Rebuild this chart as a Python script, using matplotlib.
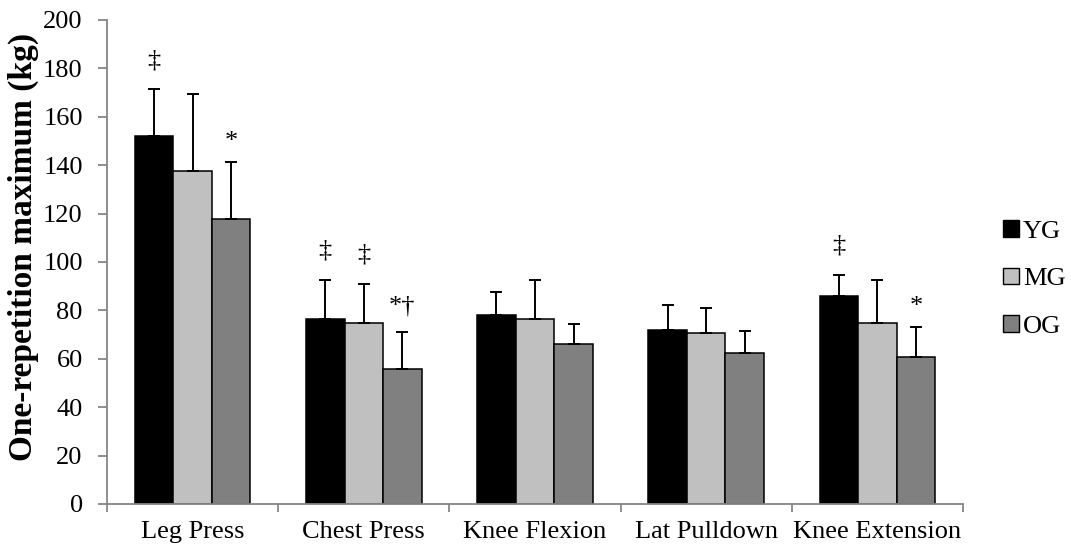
import matplotlib
matplotlib.use("Agg")
import matplotlib.pyplot as plt
import numpy as np

categories = ["Leg Press", "Chest Press", "Knee Flexion", "Lat Pulldown", "Knee Extension"]
groups = ["YG", "MG", "OG"]
yg_mean = [152.2, 76.3, 77.9, 72.0, 86.1]
mg_mean = [137.7, 74.6, 76.6, 70.7, 74.9]
og_mean = [117.9, 55.7, 66.3, 62.3, 60.8]
yg_sd = [19.2, 16.2, 9.5, 10.3, 8.6]
mg_sd = [31.8, 16.4, 15.9, 10.3, 17.7]
og_sd = [23.3, 15.2, 8.2, 9.2, 12.3]
yg_sig = ["‡", "‡", "", "", "‡"]
mg_sig = ["", "‡", "", "", ""]
og_sig = ["*", "*†", "", "", "*"]
y_ticks = [0, 20, 40, 60, 80, 100, 120, 140, 160, 180, 200]
y_label = "One-repetition maximum (kg)"

colors = ["#000000", "#C0C0C0", "#808080"]

plt.rcParams['font.family'] = ['Liberation Serif', 'DejaVu Serif']

W, H = 1071, 554
fig = plt.figure(figsize=(W / 100, H / 100), dpi=100)
ax = fig.add_axes([107 / W, 1 - 504 / H, 856 / W, 484 / H])

# vertical offset (points) of each marker glyph above its error bar
sig_offset = {"‡": 21, "*": 14.5, "*†": 19}

x = np.arange(len(categories))
w = 0.225
means = [yg_mean, mg_mean, og_mean]
sds = [yg_sd, mg_sd, og_sd]
sigs = [yg_sig, mg_sig, og_sig]
for i, (m, s, sg, c, g) in enumerate(zip(means, sds, sigs, colors, groups)):
    pos = x + (i - 1) * w
    ax.bar(pos, m, width=w, color=c, edgecolor="black", linewidth=1.1, label=g, zorder=2)
    ax.errorbar(pos, m, yerr=[np.zeros(len(s)), s], fmt="none", ecolor="black",
                elinewidth=1.4, capsize=4.3, capthick=1.4, zorder=3)
    for p, mv, sv, t in zip(pos, m, s, sg):
        if t:
            ax.annotate(t, (p, mv + sv), xytext=(0, sig_offset[t]), textcoords="offset points",
                        ha="center", va="center", fontsize=19)

ax.set_xlim(-0.5, len(categories) - 0.5)
ax.set_ylim(0, 200)
ax.set_yticks(y_ticks)
ax.set_xticks(x)
ax.set_xticklabels(categories)
ax.set_xticks(np.arange(len(categories) + 1) - 0.5, minor=True)
ax.tick_params(axis="x", which="major", length=0, labelsize=19, pad=12.5)
ax.tick_params(axis="x", which="minor", length=5.5, color="#868686", width=1.3, direction="out")
ax.tick_params(axis="y", length=6.3, color="#868686", width=1.3, labelsize=19, pad=11.2)
for sp in ["top", "right"]:
    ax.spines[sp].set_visible(False)
for sp in ["left", "bottom"]:
    ax.spines[sp].set_color("#868686")
    ax.spines[sp].set_linewidth(1.3)

fig.text(23 / W, 1 - 246.5 / H, y_label, rotation=90, ha="center", va="center",
         fontsize=24, fontweight="bold")

leg = ax.legend(loc="center left", bbox_to_anchor=(1003 / W, 1 - 279 / H),
                bbox_transform=fig.transFigure, frameon=False, fontsize=19,
                handlelength=0.6, handleheight=0.6, handletextpad=0.15,
                labelspacing=0.95, borderpad=0, borderaxespad=0)
for h in leg.legend_handles:
    h.set_linewidth(1.0)

fig.savefig("out.png", dpi=100)
